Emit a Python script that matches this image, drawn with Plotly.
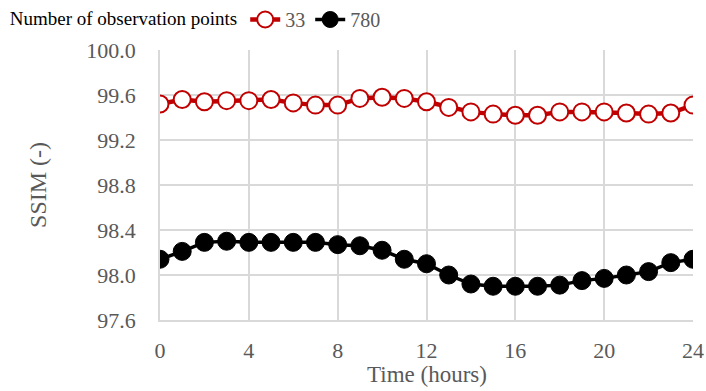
import plotly.graph_objects as go

# Hourly SSIM (%) for two observation-point densities
hours = list(range(25))
ssim_33 = [99.52, 99.56, 99.54, 99.55, 99.55, 99.56, 99.53, 99.51, 99.51, 99.57, 99.58, 99.57,
           99.54, 99.49, 99.45, 99.43, 99.42, 99.42, 99.45, 99.45, 99.45, 99.44, 99.43, 99.44, 99.51]
ssim_780 = [98.14, 98.21, 98.29, 98.30, 98.29, 98.29, 98.29, 98.29, 98.27, 98.26, 98.22, 98.14,
            98.10, 98.00, 97.92, 97.90, 97.90, 97.90, 97.91, 97.95, 97.97, 98.00, 98.03, 98.11, 98.14]
x_ticks = [0, 4, 8, 12, 16, 20, 24]
y_ticks = [97.6, 98.0, 98.4, 98.8, 99.2, 99.6, 100.0]

FONT = "Liberation Serif"
GRID = "#D9D9D9"
TICK_COLOR = "#595959"

fig = go.Figure()
fig.add_trace(go.Scatter(
    x=hours, y=ssim_33, name="33", mode="lines+markers",
    line=dict(color="#C00000", width=4.5),
    marker=dict(symbol="circle", size=17, color="white",
                line=dict(color="#C00000", width=2)),
))
fig.add_trace(go.Scatter(
    x=hours, y=ssim_780, name="780", mode="lines+markers",
    line=dict(color="black", width=3.5),
    marker=dict(symbol="circle", size=18, color="black",
                line=dict(color="black", width=1)),
))

fig.update_layout(
    width=706, height=391,
    margin=dict(l=160, r=13, t=50, b=71, autoexpand=False),
    paper_bgcolor="white", plot_bgcolor="white",
    font=dict(family=FONT, size=22, color=TICK_COLOR),
    legend=dict(
        orientation="h",
        xref="container", yref="container",
        x=0.011, y=1.0, xanchor="left", yanchor="top",
        title=dict(text="Number of observation points",
                   font=dict(family=FONT, size=19, color="#000000"),
                   side="left"),
        font=dict(family=FONT, size=20, color=TICK_COLOR),
        itemwidth=30, tracegroupgap=0,
        bgcolor="rgba(0,0,0,0)",
    ),
    xaxis=dict(
        range=[0, 24], tickvals=x_ticks, ticktext=[str(v) for v in x_ticks],
        showgrid=True, gridcolor=GRID, gridwidth=1.5,
        showline=True, linecolor=GRID, linewidth=1.5, mirror=False,
        zeroline=False, ticks="", ticklabelstandoff=10,
        tickfont=dict(family=FONT, size=22, color=TICK_COLOR),
    ),
    yaxis=dict(
        range=[97.6, 100.0], tickvals=y_ticks, ticktext=[f"{v:.1f}" for v in y_ticks],
        showgrid=True, gridcolor=GRID, gridwidth=1.5,
        showline=True, linecolor=GRID, linewidth=1.5,
        zeroline=False, ticks="", ticklabelstandoff=18,
        tickfont=dict(family=FONT, size=22, color=TICK_COLOR),
    ),
    annotations=[
        dict(text="Time (hours)", xref="paper", yref="paper",
             x=0.5, y=-0.2, xanchor="center", yanchor="middle",
             showarrow=False, font=dict(family=FONT, size=23, color=TICK_COLOR)),
        dict(text="SSIM (-)", xref="paper", yref="paper",
             x=-0.229, y=0.5, xanchor="center", yanchor="middle", textangle=-90,
             showarrow=False, font=dict(family=FONT, size=24, color=TICK_COLOR)),
    ],
    showlegend=True,
)

fig.write_html("out.html")
